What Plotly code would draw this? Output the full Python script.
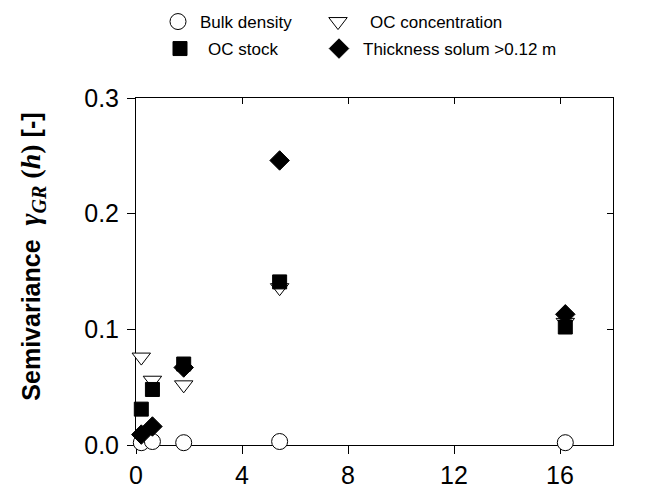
import plotly.graph_objects as go

lag = [0.2, 0.62, 1.8, 5.42, 16.2]
bulk_density = [0.002, 0.003, 0.002, 0.003, 0.002]
oc_concentration = [0.076, 0.056, 0.052, 0.136, 0.106]
oc_stock = [0.031, 0.048, 0.070, 0.141, 0.102]
thickness = [0.009, 0.016, 0.067, 0.246, 0.113]

x_ticks = [0, 4, 8, 12, 16]
y_ticks = [0.0, 0.1, 0.2, 0.3]

FONT = "Liberation Sans, Arial, sans-serif"
SERIF = "Liberation Serif, Times New Roman, serif"

series = [
    ("Bulk density", bulk_density, "circle", 16, "white", "legend"),
    ("OC concentration", oc_concentration, "triangle-down", 16, "white", "legend2"),
    ("OC stock", oc_stock, "square", 14, "black", "legend3"),
    ("Thickness solum >0.12 m", thickness, "diamond", 15, "black", "legend4"),
]

fig = go.Figure()
for name, vals, sym, size, fill, leg in series:
    fig.add_trace(go.Scatter(x=lag, y=vals, mode="markers", name=name,
                             marker=dict(symbol=sym, size=size, color=fill,
                                         line=dict(color="black", width=1)),
                             cliponaxis=False, legend=leg, showlegend=True))
# helper trace for the mirrored (inside) ticks on top/right
fig.add_trace(go.Scatter(x=[], y=[], xaxis="x2", yaxis="y2", showlegend=False,
                         hoverinfo="skip"))

ytitle = ("<b>Semivariance  </b>"
          f"<span style='font-family:{SERIF};font-size:29px'><b><i>γ</i></b></span>"
          f"<sub><span style='font-family:{SERIF};font-size:20px'><b><i>GR</i></b></span></sub>"
          f"<span style='font-family:{SERIF};font-size:28px'><b> (<i>h</i>)</b></span>"
          "<b> [-]</b>")

def legend_at(sym_x, sym_y, extra):
    return dict(orientation="h", xref="container", yref="container",
                x=(sym_x - 20 - extra) / 653, y=1 - sym_y / 501,
                xanchor="left", yanchor="middle", itemwidth=30 + 2 * extra,
                font=dict(family=FONT, size=17, color="black"),
                bgcolor="rgba(0,0,0,0)", itemclick=False, itemdoubleclick=False)

fig.update_layout(
    width=653, height=501,
    showlegend=True,
    margin=dict(l=136, r=40, t=98, b=53),
    paper_bgcolor="white", plot_bgcolor="white",
    font=dict(family=FONT, color="black"),
    legend=legend_at(178, 22, 2),
    legend2=legend_at(338, 22, 12),
    legend3=legend_at(180, 49, 8),
    legend4=legend_at(339, 49, 4),
    xaxis=dict(range=[0, 18], tickvals=x_ticks, ticktext=[str(v) for v in x_ticks],
               ticks="outside", ticklen=8, tickwidth=1, tickcolor="black",
               showline=True, linecolor="black", linewidth=1, mirror=True,
               showgrid=False, zeroline=False, layer="below traces",
               tickfont=dict(family=FONT, size=25, color="black")),
    yaxis=dict(range=[0, 0.3], tickvals=y_ticks, ticktext=[f"{v:.1f}" for v in y_ticks],
               ticks="outside", ticklen=8, tickwidth=1, tickcolor="black",
               showline=True, linecolor="black", linewidth=1, mirror=True,
               showgrid=False, zeroline=False, layer="below traces",
               ticklabelstandoff=3,
               tickfont=dict(family=FONT, size=25, color="black")),
    xaxis2=dict(range=[0, 18], overlaying="x", side="top", anchor="y2",
                tickvals=x_ticks, ticks="inside", ticklen=6, tickcolor="black",
                showticklabels=False, showline=False, showgrid=False, zeroline=False),
    yaxis2=dict(range=[0, 0.3], overlaying="y", side="right", anchor="x2",
                tickvals=y_ticks, ticks="inside", ticklen=6, tickcolor="black",
                showticklabels=False, showline=False, showgrid=False, zeroline=False),
    annotations=[dict(text=ytitle, textangle=-90, xref="paper", yref="paper",
                      x=(32 - 136) / 477, y=(448 - 258) / 350,
                      xanchor="center", yanchor="middle", showarrow=False,
                      font=dict(family=FONT, size=25, color="black"))],
)

fig.write_html("out.html")
